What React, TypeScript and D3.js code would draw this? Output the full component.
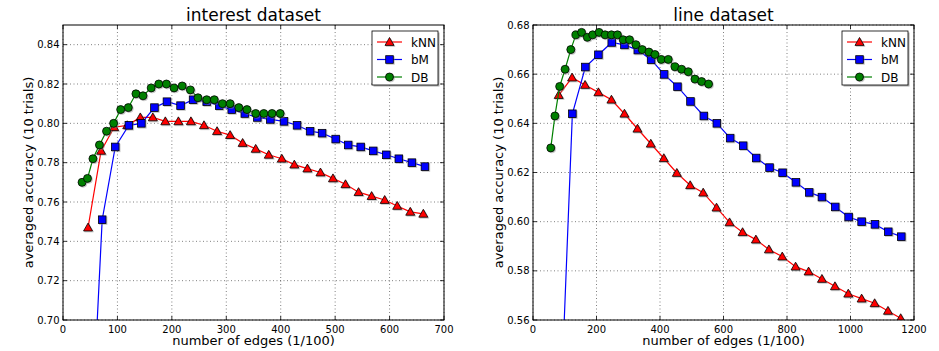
import React from "react";
import * as d3 from "d3";

// interest dataset
const interestKnnX = [46, 70, 94, 118, 142, 165, 188, 212, 235, 259, 283, 307, 330, 354, 378, 402, 425, 449, 473, 496, 519, 543, 567, 591, 614, 638, 662];
const interestKnnY = [0.747, 0.786, 0.798, 0.799, 0.803, 0.803, 0.801, 0.801, 0.801, 0.799, 0.796, 0.794, 0.790, 0.787, 0.784, 0.782, 0.779, 0.777, 0.775, 0.772, 0.769, 0.765, 0.763, 0.761, 0.758, 0.755, 0.754];
const interestBmX = [47, 72, 96, 121, 144, 168, 191, 216, 239, 264, 287, 310, 334, 357, 381, 406, 430, 454, 476, 501, 524, 547, 570, 594, 617, 641, 665];
const interestBmY = [0.61, 0.751, 0.788, 0.799, 0.8, 0.808, 0.811, 0.809, 0.812, 0.811, 0.809, 0.807, 0.805, 0.803, 0.802, 0.801, 0.799, 0.796, 0.795, 0.792, 0.789, 0.788, 0.786, 0.784, 0.782, 0.78, 0.778];
const interestDbX = [35, 45, 55, 67, 80, 93, 106, 120, 134, 147, 162, 176, 190, 204, 219, 234, 248, 264, 278, 293, 307, 323, 338, 354, 369, 384, 399];
const interestDbY = [0.77, 0.772, 0.782, 0.789, 0.796, 0.8, 0.807, 0.808, 0.815, 0.814, 0.818, 0.82, 0.82, 0.818, 0.819, 0.817, 0.813, 0.812, 0.812, 0.81, 0.81, 0.808, 0.807, 0.805, 0.805, 0.805, 0.805];

// line dataset
const lineKnnX = [81, 123, 164, 206, 247, 288, 329, 371, 412, 453, 495, 536, 578, 619, 660, 702, 743, 785, 827, 868, 910, 951, 993, 1035, 1076, 1118, 1158];
const lineKnnY = [0.6515, 0.6586, 0.6556, 0.6526, 0.6496, 0.6439, 0.6378, 0.6317, 0.6258, 0.6198, 0.6148, 0.6118, 0.6057, 0.5997, 0.5957, 0.5927, 0.5887, 0.5858, 0.5817, 0.5797, 0.5767, 0.5737, 0.5707, 0.5687, 0.5668, 0.5637, 0.5607];
const lineBmX = [82, 124, 165, 206, 248, 288, 330, 372, 413, 455, 496, 538, 579, 621, 662, 703, 745, 786, 828, 870, 910, 952, 994, 1035, 1077, 1119, 1160];
const lineBmY = [0.506, 0.6439, 0.6629, 0.6679, 0.6729, 0.6719, 0.6698, 0.6659, 0.6599, 0.6549, 0.6489, 0.643, 0.64, 0.634, 0.6309, 0.6259, 0.622, 0.6199, 0.616, 0.6119, 0.61, 0.606, 0.6019, 0.6, 0.5989, 0.5959, 0.5939];
const lineDbX = [56, 69, 84, 101, 119, 135, 153, 171, 188, 208, 227, 247, 266, 284, 304, 324, 344, 365, 384, 404, 426, 447, 468, 489, 510, 531, 553];
const lineDbY = [0.63, 0.643, 0.655, 0.662, 0.67, 0.676, 0.677, 0.675, 0.676, 0.677, 0.676, 0.676, 0.676, 0.674, 0.674, 0.672, 0.67, 0.669, 0.668, 0.666, 0.666, 0.663, 0.662, 0.661, 0.658, 0.657, 0.656];

const interestXTicks = [0, 100, 200, 300, 400, 500, 600, 700];
const interestYTicks = [0.7, 0.72, 0.74, 0.76, 0.78, 0.8, 0.82, 0.84];
const lineXTicks = [0, 200, 400, 600, 800, 1000, 1200];
const lineYTicks = [0.56, 0.58, 0.6, 0.62, 0.64, 0.66, 0.68];

const seriesNames = ["kNN", "bM", "DB"];
const seriesColors = ["#ff0000", "#0000ff", "#008000"];
const seriesMarkers = ["triangle", "square", "circle"];

const FONT = "DejaVu Sans, sans-serif";

const markerShape = (kind: string, x: number, y: number, fill: string, stroke: string) => {
  if (kind === "circle")
    return <circle cx={x} cy={y} r={4} fill={fill} stroke={stroke} strokeWidth={0.8} />;
  if (kind === "square")
    return <rect x={x - 3.8} y={y - 3.8} width={7.6} height={7.6} fill={fill} stroke={stroke} strokeWidth={0.8} />;
  const s = 4.5;
  return (
    <path
      d={`M${x},${y - s} L${x + s},${y + s * 0.75} L${x - s},${y + s * 0.75} Z`}
      fill={fill}
      stroke={stroke}
      strokeWidth={0.8}
    />
  );
};

// marker with the soft grey drop shadow seen in the original
const Marker = ({ kind, x, y, color }: { kind: string; x: number; y: number; color: string }) => (
  <g>
    <g opacity={0.45}>{markerShape(kind, x + 1, y + 1, "#888", "#888")}</g>
    {markerShape(kind, x, y, color, "#000")}
  </g>
);

type Panel = {
  id: string;
  left: number;
  title: string;
  xDomain: [number, number];
  yDomain: [number, number];
  xTicks: number[];
  yTicks: number[];
  series: { xs: number[]; ys: number[] }[];
};

const Chart = ({ p }: { p: Panel }) => {
  const top = 25;
  const w = 381;
  const h = 295;
  const x = d3.scaleLinear().domain(p.xDomain).range([0, w]);
  const y = d3.scaleLinear().domain(p.yDomain).range([h, 0]);
  const line = d3.line<[number, number]>().x((d) => x(d[0])).y((d) => y(d[1]));
  const fmtY = d3.format(".2f");

  return (
    <g transform={`translate(${p.left},${top})`} fontFamily={FONT}>
      <defs>
        <clipPath id={`clip-${p.id}`}>
          <rect x={0} y={0} width={w} height={h} />
        </clipPath>
      </defs>
      <rect x={0} y={0} width={w} height={h} fill="#fff" />
      {/* grid */}
      {p.xTicks.map((t) => (
        <line key={`gx${t}`} x1={x(t)} x2={x(t)} y1={0} y2={h} stroke="#000" strokeWidth={0.5} strokeDasharray="1,2.5" />
      ))}
      {p.yTicks.map((t) => (
        <line key={`gy${t}`} x1={0} x2={w} y1={y(t)} y2={y(t)} stroke="#000" strokeWidth={0.5} strokeDasharray="1,2.5" />
      ))}
      {/* series */}
      <g clipPath={`url(#clip-${p.id})`}>
        {p.series.map((s, i) => {
          const pts = s.xs.map((v, j) => [v, s.ys[j]] as [number, number]);
          return (
            <g key={i}>
              <path d={line(pts) || ""} fill="none" stroke={seriesColors[i]} strokeWidth={1.2} />
              {pts.map((d, j) => (
                <Marker key={j} kind={seriesMarkers[i]} x={x(d[0])} y={y(d[1])} color={seriesColors[i]} />
              ))}
            </g>
          );
        })}
      </g>
      {/* frame */}
      <rect x={0} y={0} width={w} height={h} fill="none" stroke="#000" strokeWidth={1} />
      {/* ticks inside, all sides */}
      {p.xTicks.map((t) => (
        <g key={`tx${t}`}>
          <line x1={x(t)} x2={x(t)} y1={h} y2={h - 4} stroke="#000" strokeWidth={0.8} />
          <line x1={x(t)} x2={x(t)} y1={0} y2={4} stroke="#000" strokeWidth={0.8} />
          <text x={x(t)} y={h + 12.5} fontSize={10} textAnchor="middle" fill="#000">
            {t}
          </text>
        </g>
      ))}
      {p.yTicks.map((t) => (
        <g key={`ty${t}`}>
          <line x1={0} x2={4} y1={y(t)} y2={y(t)} stroke="#000" strokeWidth={0.8} />
          <line x1={w} x2={w - 4} y1={y(t)} y2={y(t)} stroke="#000" strokeWidth={0.8} />
          <text x={-3.5} y={y(t) + 3.5} fontSize={10} textAnchor="end" fill="#000">
            {fmtY(t)}
          </text>
        </g>
      ))}
      {/* legend */}
      <g transform={`translate(${w - 72},6)`}>
        <rect x={1.5} y={1.5} width={66} height={54} fill="#777" opacity={0.6} />
        <rect x={0} y={0} width={66} height={54} fill="#fff" stroke="#000" strokeWidth={0.8} />
        {seriesNames.map((n, i) => (
          <g key={n} transform={`translate(0,${11 + i * 17.5})`}>
            <line x1={5} x2={30} y1={0} y2={0} stroke={seriesColors[i]} strokeWidth={1.2} />
            <Marker kind={seriesMarkers[i]} x={17.5} y={0} color={seriesColors[i]} />
            <text x={39} y={4.5} fontSize={12} fill="#000">
              {n}
            </text>
          </g>
        ))}
      </g>
      {/* labels */}
      <text x={w / 2} y={-4} fontSize={17} textAnchor="middle" fill="#000">
        {p.title}
      </text>
      <text x={w / 2} y={h + 25} fontSize={13} textAnchor="middle" fill="#000">
        number of edges (1/100)
      </text>
      <text
        transform={`translate(-30,${h / 2}) rotate(-90)`}
        fontSize={13}
        textAnchor="middle"
        fill="#000"
      >
        averaged accuracy (10 trials)
      </text>
    </g>
  );
};

const panels: Panel[] = [
  {
    id: "interest",
    left: 63,
    title: "interest dataset",
    xDomain: [0, 700],
    yDomain: [0.7, 0.85],
    xTicks: interestXTicks,
    yTicks: interestYTicks,
    series: [
      { xs: interestKnnX, ys: interestKnnY },
      { xs: interestBmX, ys: interestBmY },
      { xs: interestDbX, ys: interestDbY },
    ],
  },
  {
    id: "line",
    left: 533,
    title: "line dataset",
    xDomain: [0, 1200],
    yDomain: [0.56, 0.68],
    xTicks: lineXTicks,
    yTicks: lineYTicks,
    series: [
      { xs: lineKnnX, ys: lineKnnY },
      { xs: lineBmX, ys: lineBmY },
      { xs: lineDbX, ys: lineDbY },
    ],
  },
];

export default function App() {
  return (
    <svg
      width={939}
      height={351}
      style={{ position: "absolute", left: 0, top: 0, background: "#fff" }}
    >
      {panels.map((p) => (
        <Chart key={p.id} p={p} />
      ))}
    </svg>
  );
}
